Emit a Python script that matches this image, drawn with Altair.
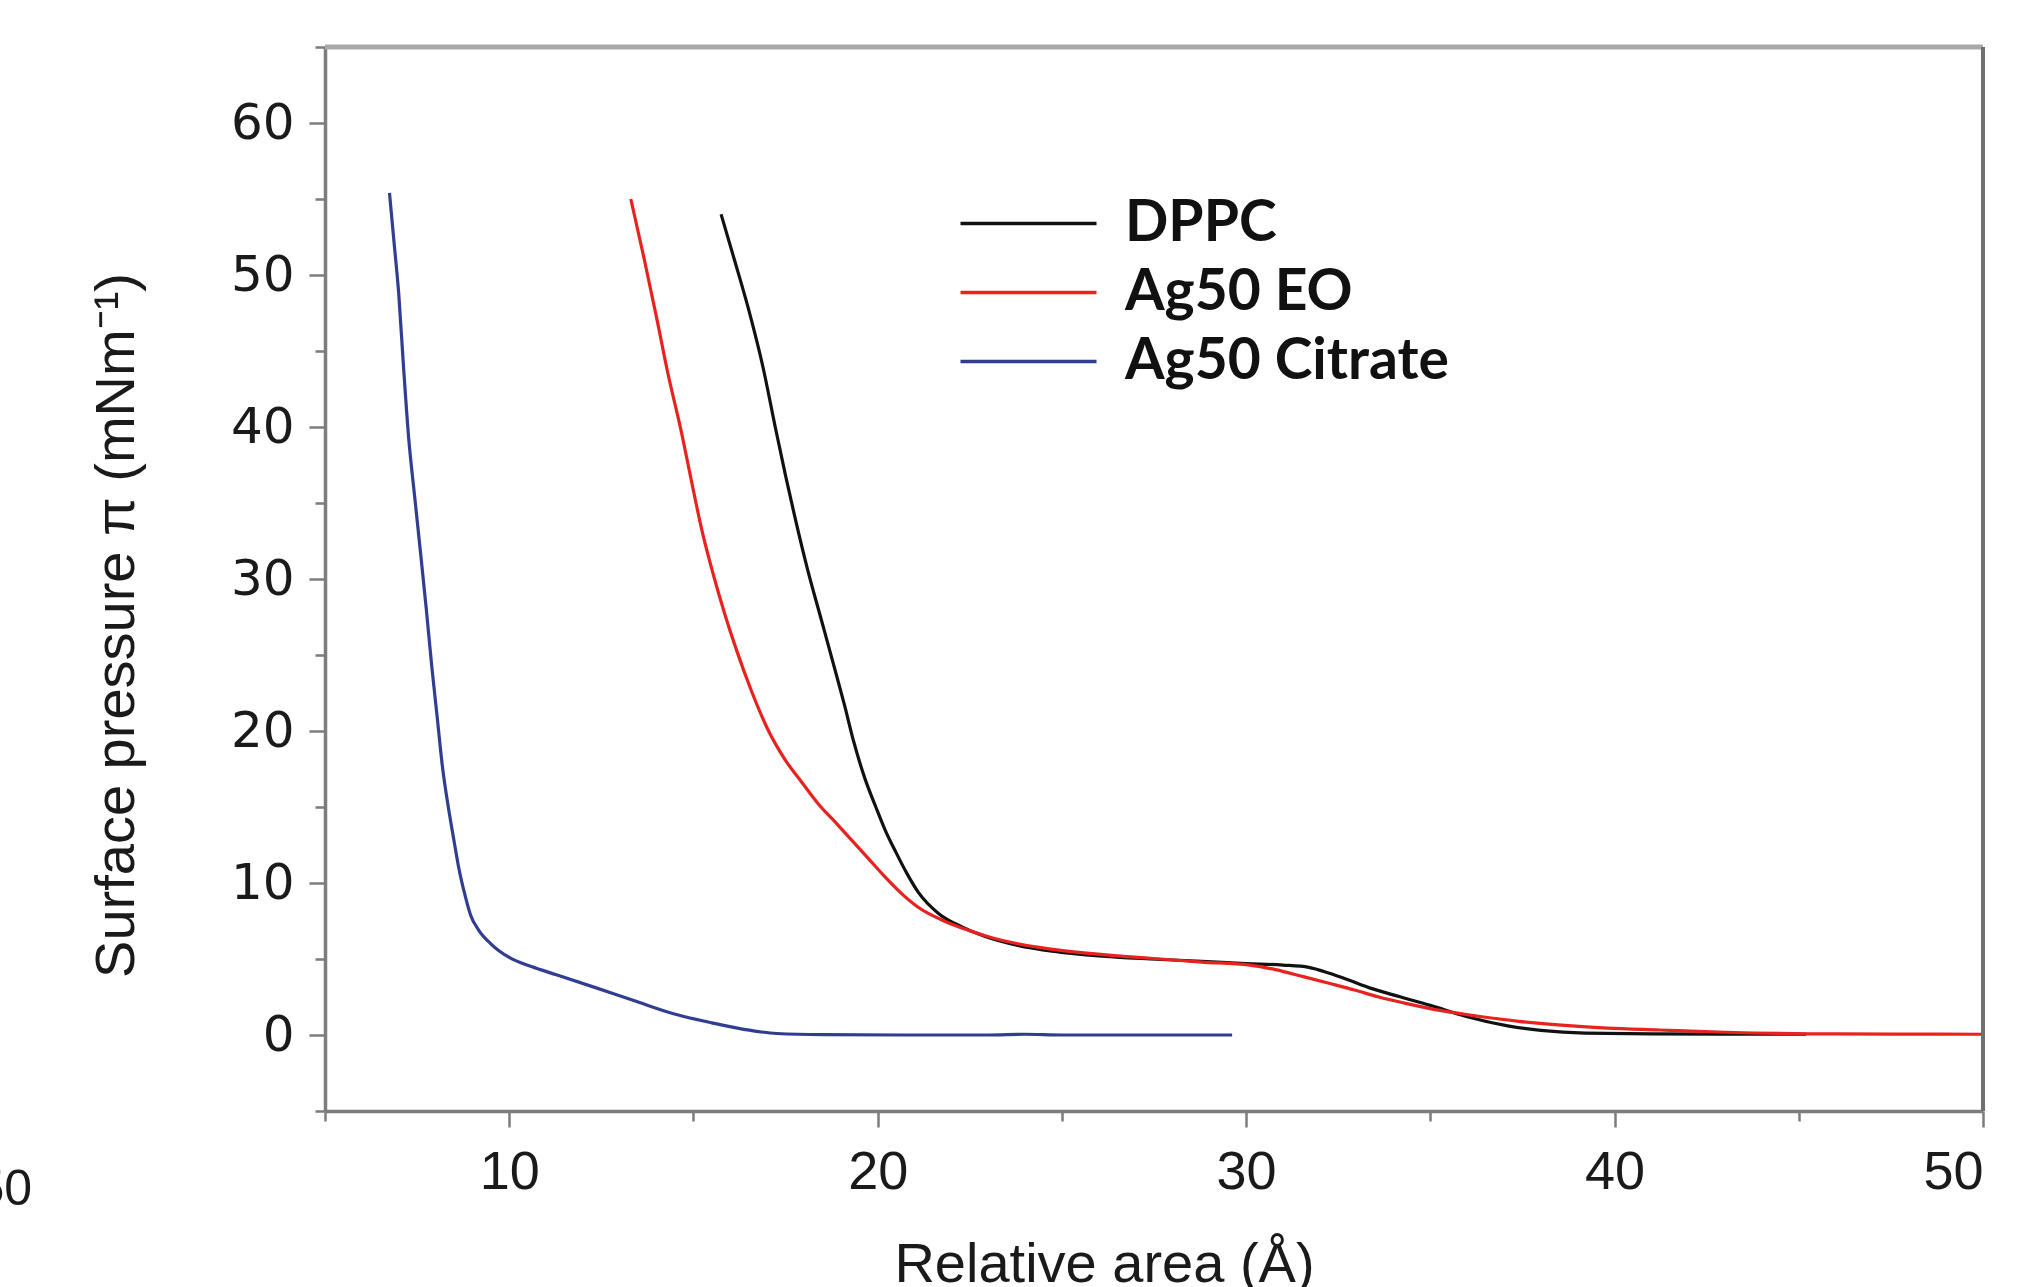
import altair as alt
import pandas as pd

# ---------------- data ----------------
series_names = ["DPPC", "Ag50 EO", "Ag50 Citrate"]
series_colors = ["#111111", "#e8221e", "#313d93"]

dppc_x = [15.75, 16.1, 16.49, 16.9, 17.22, 17.5, 17.76, 18.1, 18.45, 18.8, 19.1, 19.35,
          19.65, 19.95, 20.2, 20.5, 20.8, 21.1, 21.65, 22.3, 22.9, 23.8, 24.8, 26.0,
          27.4, 28.8, 30.0, 31.0, 31.7, 32.26, 32.8, 33.35, 34.2, 35.0, 36.0, 37.1,
          38.0, 39.2, 41.0, 43.0, 45.2]
dppc_y = [54.0, 51.1, 47.8, 43.8, 40.0, 36.8, 34.0, 30.6, 27.5, 24.4, 21.7, 19.3,
          16.9, 15.0, 13.5, 12.0, 10.6, 9.4, 8.0, 7.1, 6.5, 5.9, 5.5, 5.2,
          5.0, 4.85, 4.7, 4.6, 4.45, 4.06, 3.6, 3.1, 2.5, 1.95, 1.2, 0.6,
          0.3, 0.12, 0.08, 0.06, 0.05]

eo_x = [13.3, 13.65, 14.0, 14.3, 14.68, 14.95, 15.23, 15.55, 15.85, 16.13, 16.58, 17.0,
        17.49, 17.95, 18.39, 18.85, 19.3, 19.75, 20.2, 20.65, 21.1, 21.8, 22.45, 23.1,
        23.8, 24.7, 25.6, 26.5, 27.4, 28.8, 30.1, 30.8, 31.55, 32.25, 32.94, 33.6,
        34.3, 35.3, 36.4, 37.4, 38.47, 39.8, 41.2, 43.0, 45.25, 47.5, 50.0]
eo_y = [55.0, 51.2, 47.2, 43.6, 39.6, 36.4, 33.2, 30.2, 27.7, 25.6, 22.6, 20.2,
        18.1, 16.6, 15.2, 14.0, 12.8, 11.6, 10.4, 9.3, 8.4, 7.5, 6.9, 6.4,
        6.0, 5.65, 5.4, 5.2, 5.05, 4.8, 4.6, 4.3, 3.84, 3.4, 2.96, 2.5,
        2.1, 1.6, 1.2, 0.9, 0.66, 0.45, 0.33, 0.18, 0.08, 0.06, 0.05]

cit_x = [6.75, 6.88, 7.0, 7.13, 7.27, 7.43, 7.59, 7.75, 7.9, 8.05, 8.18, 8.36,
         8.5, 8.63, 8.81, 8.95, 9.17, 9.5, 10.0, 10.6, 11.3, 12.36, 13.4, 14.46,
         15.5, 16.56, 17.26, 18.5, 20.76, 23.0, 24.0, 25.0, 29.62]
cit_y = [55.4, 52.0, 48.8, 44.0, 39.3, 35.5, 31.8, 28.0, 24.2, 20.8, 17.8, 14.8,
         12.8, 11.0, 9.1, 7.9, 6.9, 6.0, 5.1, 4.5, 3.95, 3.1, 2.25, 1.4,
         0.8, 0.3, 0.1, 0.02, 0.0, 0.0, 0.05, 0.0, 0.0]

x_ticks = [5, 10, 15, 20, 25, 30, 35, 40, 45, 50]
y_ticks = [-5, 0, 5, 10, 15, 20, 25, 30, 35, 40, 45, 50, 55, 60, 65]

rows = []
for name, xs, ys in [("Ag50 Citrate", cit_x, cit_y), ("DPPC", dppc_x, dppc_y), ("Ag50 EO", eo_x, eo_y)]:
    for i, (a, b) in enumerate(zip(xs, ys)):
        rows.append({"series": name, "area": a, "pressure": b, "idx": i})
df = pd.DataFrame(rows)

# ---------------- chart ----------------
FONT = "Liberation Sans"
x_scale = alt.Scale(domain=[5, 50], nice=False, zero=False)
y_scale = alt.Scale(domain=[-5, 65], nice=False, zero=False)

common_axis = dict(
    grid=False,
    domainColor="#7d7d7d",
    domainWidth=3.5,
    tickColor="#7d7d7d",
    tickWidth=2.5,
    labelColor="#1a1a1a",
    titleFont=FONT,
    titleColor="#1a1a1a",
    titleFontWeight="normal",
    titleFontSize=56,
    tickSize={"condition": {"test": "datum.value % 10 === 0", "value": 16}, "value": 10},
    labelExpr="datum.value % 10 === 0 ? datum.label : ''",
)

x_axis = alt.Axis(
    values=x_ticks,
    title="Relative area (Å)",
    labelFont=FONT,
    labelFontSize=54,
    labelPadding=18,
    titleX=779,
    titleY=170,
    titleAlign="center",
    titleBaseline="alphabetic",
    **common_axis,
)
y_axis = alt.Axis(
    values=y_ticks,
    title="Surface pressure π (mNm⁻¹)",
    labelFont="DejaVu Sans",
    labelFontSize=50,
    labelPadding=15,
    titleAngle=270,
    titleX=-192,
    titleY=578,
    titleAlign="center",
    titleBaseline="alphabetic",
    **common_axis,
)

legend = alt.Legend(
    orient="none",
    legendX=624,
    legendY=148,
    title=None,
    symbolType="M-1,0H7",
    symbolSize=1156,
    symbolStrokeWidth=3.5,
    symbolFillColor="transparent",
    labelFont="Lato",
    labelFontWeight="bold",
    labelFontSize=57,
    labelColor="#111111",
    labelLimit=600,
    labelOffset=119,
    rowPadding=11,
    padding=0,
)

lines = alt.Chart(df).mark_line(strokeWidth=3.2, clip=True, interpolate="monotone").encode(
    x=alt.X("area:Q", scale=x_scale, axis=x_axis),
    y=alt.Y("pressure:Q", scale=y_scale, axis=y_axis),
    color=alt.Color("series:N", scale=alt.Scale(domain=series_names, range=series_colors), legend=legend),
    order="idx:Q",
)

top_edge = alt.Chart(pd.DataFrame({"pressure": [65]})).mark_rule(
    color="#a9a9a9", strokeWidth=5
).encode(y=alt.Y("pressure:Q", scale=y_scale))

right_edge = alt.Chart(pd.DataFrame({"area": [50]})).mark_rule(
    color="#6f6f6f", strokeWidth=4
).encode(x=alt.X("area:Q", scale=x_scale))

stray = alt.Chart(pd.DataFrame({"t": ["50"]})).mark_text(
    font=FONT, fontSize=50, align="right", baseline="middle", color="#1a1a1a"
).encode(text="t:N", x=alt.value(-293), y=alt.value(1143))

chart = alt.layer(lines, top_edge, right_edge, stray).properties(
    width=1658,
    height=1064,
    padding={"left": 325, "top": 47, "right": 42, "bottom": 176},
    autosize=alt.AutoSizeParams(type="none"),
    background="white",
).configure_view(stroke=None)

chart.save("out.html", embed_options={"renderer": "svg", "actions": False})
